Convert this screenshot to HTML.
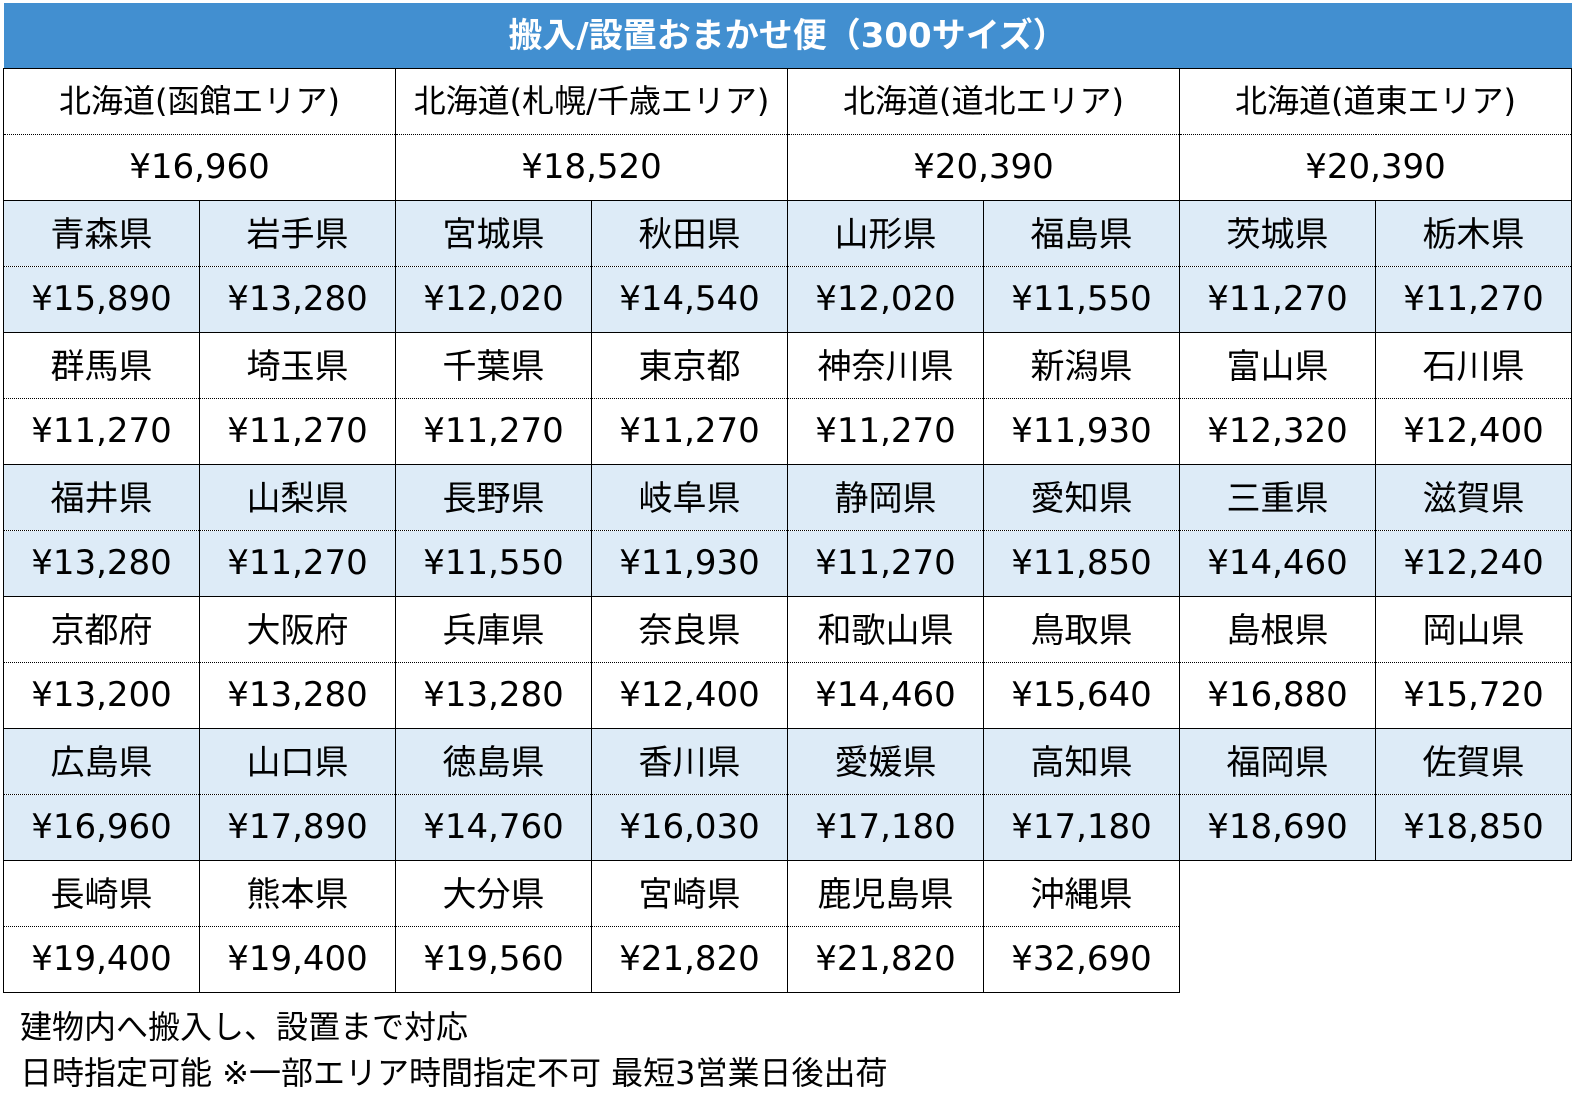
<!DOCTYPE html>
<html><head><meta charset="utf-8"><style>
body{margin:0;background:#fff;width:1575px;height:1103px;overflow:hidden;font-family:"DejaVu Sans","Noto Sans CJK JP",sans-serif;}
table{position:absolute;left:3px;top:3px;border-collapse:collapse;table-layout:fixed;width:1569px;}
td{border:1.5px solid #000;text-align:center;padding:0;height:65.1px;color:#000;white-space:nowrap;overflow:hidden;}
.hd td{background:#428fd0;color:#fff;font-weight:bold;font-size:34px;height:59px;padding-bottom:6px;border:none;}
tr.n td{font-size:34px;border-bottom:1.5px dotted #000;height:60px;padding-bottom:5px;}
tr.r td{font-size:32px;}
tr.p td{font-size:34px;border-top:1.5px dotted #000;height:63px;padding-bottom:2px;}
tr.b td{background:#ddebf7;}
tr td.e{border:none;background:#fff;}
.f{position:absolute;left:20px;font-size:32px;color:#000;}
</style></head><body>
<table>
<colgroup><col><col><col><col><col><col><col><col></colgroup>
<tr class="hd"><td colspan="8">搬入/設置おまかせ便（300サイズ）</td></tr>
<tr class="n r"><td colspan="2">北海道(函館エリア)</td><td colspan="2">北海道(札幌/千歳エリア)</td><td colspan="2">北海道(道北エリア)</td><td colspan="2">北海道(道東エリア)</td></tr>
<tr class="p"><td colspan="2">¥16,960</td><td colspan="2">¥18,520</td><td colspan="2">¥20,390</td><td colspan="2">¥20,390</td></tr>
<tr class="n b"><td>青森県</td><td>岩手県</td><td>宮城県</td><td>秋田県</td><td>山形県</td><td>福島県</td><td>茨城県</td><td>栃木県</td></tr>
<tr class="p b"><td>¥15,890</td><td>¥13,280</td><td>¥12,020</td><td>¥14,540</td><td>¥12,020</td><td>¥11,550</td><td>¥11,270</td><td>¥11,270</td></tr>
<tr class="n"><td>群馬県</td><td>埼玉県</td><td>千葉県</td><td>東京都</td><td>神奈川県</td><td>新潟県</td><td>富山県</td><td>石川県</td></tr>
<tr class="p"><td>¥11,270</td><td>¥11,270</td><td>¥11,270</td><td>¥11,270</td><td>¥11,270</td><td>¥11,930</td><td>¥12,320</td><td>¥12,400</td></tr>
<tr class="n b"><td>福井県</td><td>山梨県</td><td>長野県</td><td>岐阜県</td><td>静岡県</td><td>愛知県</td><td>三重県</td><td>滋賀県</td></tr>
<tr class="p b"><td>¥13,280</td><td>¥11,270</td><td>¥11,550</td><td>¥11,930</td><td>¥11,270</td><td>¥11,850</td><td>¥14,460</td><td>¥12,240</td></tr>
<tr class="n"><td>京都府</td><td>大阪府</td><td>兵庫県</td><td>奈良県</td><td>和歌山県</td><td>鳥取県</td><td>島根県</td><td>岡山県</td></tr>
<tr class="p"><td>¥13,200</td><td>¥13,280</td><td>¥13,280</td><td>¥12,400</td><td>¥14,460</td><td>¥15,640</td><td>¥16,880</td><td>¥15,720</td></tr>
<tr class="n b"><td>広島県</td><td>山口県</td><td>徳島県</td><td>香川県</td><td>愛媛県</td><td>高知県</td><td>福岡県</td><td>佐賀県</td></tr>
<tr class="p b"><td>¥16,960</td><td>¥17,890</td><td>¥14,760</td><td>¥16,030</td><td>¥17,180</td><td>¥17,180</td><td>¥18,690</td><td>¥18,850</td></tr>
<tr class="n"><td>長崎県</td><td>熊本県</td><td>大分県</td><td>宮崎県</td><td>鹿児島県</td><td>沖縄県</td><td class="e"></td><td class="e"></td></tr>
<tr class="p"><td>¥19,400</td><td>¥19,400</td><td>¥19,560</td><td>¥21,820</td><td>¥21,820</td><td>¥32,690</td><td class="e"></td><td class="e"></td></tr>
</table>
<div class="f" style="top:1002px">建物内へ搬入し、設置まで対応</div>
<div class="f" style="top:1048px">日時指定可能 ※一部エリア時間指定不可 最短3営業日後出荷</div>
</body></html>
